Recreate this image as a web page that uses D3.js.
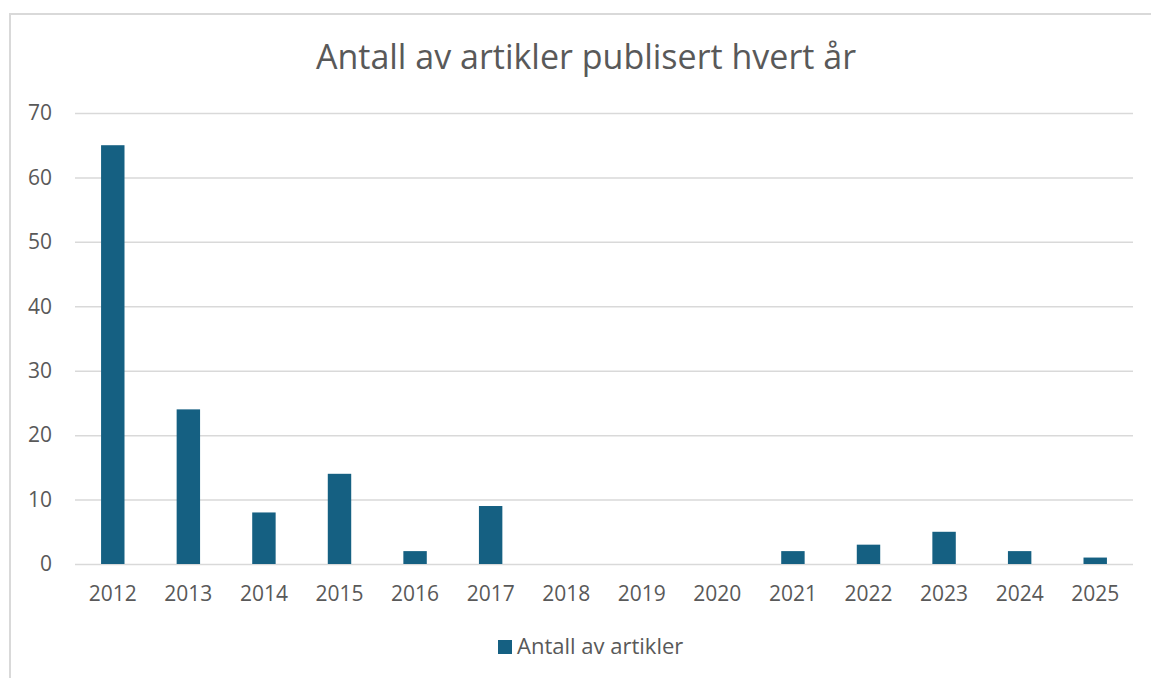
<!DOCTYPE html>
<html lang="nb">
<head>
<meta charset="UTF-8" />
<title>Antall av artikler publisert hvert år</title>
<script src="https://cdn.jsdelivr.net/npm/d3@7"></script>
<style>
  body { margin: 0; background: #fff; }
  svg { display: block; font-family: "Open Sans", sans-serif; }
  .tick text { fill: #595959; }
</style>
</head>
<body>
<script>
  // data
  var years = ["2012", "2013", "2014", "2015", "2016", "2017", "2018",
               "2019", "2020", "2021", "2022", "2023", "2024", "2025"];
  var articles = [65, 24, 8, 14, 2, 9, 0, 0, 0, 2, 3, 5, 2, 1];
  var yTicks = [0, 10, 20, 30, 40, 50, 60, 70];
  var title = "Antall av artikler publisert hvert år";
  var seriesName = "Antall av artikler";

  var w = 1151, h = 678;
  var margin = { top: 113, right: 18, bottom: 114, left: 75 };
  var barColor = "#156082";

  var svg = d3.select("body").append("svg")
              .attr("width", w)
              .attr("height", h);

  // chart frame (runs off the right / bottom edge like the original)
  svg.append("rect")
     .attr("x", 10).attr("y", 14)
     .attr("width", 1170).attr("height", 700)
     .attr("fill", "none")
     .attr("stroke", "#d9d9d9")
     .attr("stroke-width", 2);

  var xScale = d3.scaleBand()
                 .domain(years)
                 .range([margin.left, w - margin.right])
                 .paddingInner(0.69)
                 .paddingOuter(0.345);

  var yScale = d3.scaleLinear()
                 .domain([0, 70])
                 .range([h - margin.bottom, margin.top]);

  // gridlines + y labels
  var yAxis = svg.append("g")
                 .attr("transform", "translate(" + margin.left + ",0)")
                 .call(d3.axisLeft(yScale)
                         .tickValues(yTicks)
                         .tickSize(-(w - margin.left - margin.right))
                         .tickPadding(23))
                 .attr("font-family", null);
  yAxis.select(".domain").remove();
  yAxis.selectAll(".tick line")
       .attr("stroke", "#d9d9d9")
       .attr("stroke-width", 1.5);
  yAxis.selectAll(".tick text")
       .attr("font-size", "21px");

  // bars
  svg.selectAll("rect.bar")
     .data(articles)
     .enter()
     .append("rect")
     .attr("class", "bar")
     .attr("x", function(d, i) { return xScale(years[i]); })
     .attr("y", function(d) { return yScale(d); })
     .attr("width", xScale.bandwidth())
     .attr("height", function(d) { return yScale(0) - yScale(d); })
     .attr("fill", barColor);

  // x labels
  var xAxis = svg.append("g")
                 .attr("transform", "translate(0," + (h - margin.bottom) + ")")
                 .call(d3.axisBottom(xScale).tickSize(0).tickPadding(22))
                 .attr("font-family", null);
  xAxis.select(".domain").remove();
  xAxis.selectAll(".tick text")
       .attr("font-size", "21px");

  // title
  svg.append("text")
     .attr("x", 586)
     .attr("y", 69)
     .attr("text-anchor", "middle")
     .attr("fill", "#595959")
     .attr("font-size", "34px")
     .text(title);

  // legend
  var legend = svg.append("g").attr("transform", "translate(498,640)");
  legend.append("rect")
        .attr("width", 14).attr("height", 14)
        .attr("fill", barColor);
  legend.append("text")
        .attr("x", 19)
        .attr("y", 14)
        .attr("fill", "#595959")
        .attr("font-size", "22px")
        .text(seriesName);
</script>
</body>
</html>
